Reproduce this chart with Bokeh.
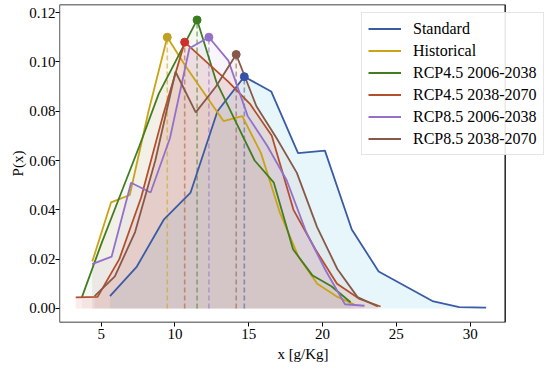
from bokeh.plotting import figure
from bokeh.models import Range1d, FixedTicker, Legend, LegendItem, PrintfTickFormatter, BoxAnnotation
from bokeh.embed import file_html
from bokeh.resources import INLINE

# ---- data ----
labels = ["Standard", "Historical", "RCP4.5 2006-2038", "RCP4.5 2038-2070",
          "RCP8.5 2006-2038", "RCP8.5 2038-2070"]

std_x = [5.6, 7.42, 9.24, 11.06, 12.88, 14.7, 16.52, 18.34, 20.16, 21.98, 23.8, 25.62, 27.44, 29.26, 31.08]
std_y = [0.005, 0.017, 0.036, 0.047, 0.080, 0.094, 0.088, 0.063, 0.064, 0.032, 0.015, 0.009, 0.003, 0.0005, 0.0003]

hist_x = [4.4, 5.67, 6.94, 8.21, 9.48, 10.75, 12.02, 13.29, 14.56, 15.83, 17.1, 18.37, 19.64, 20.91, 22.18]
hist_y = [0.019, 0.043, 0.046, 0.080, 0.110, 0.098, 0.087, 0.076, 0.078, 0.063, 0.039, 0.021, 0.010, 0.005, 0.0015]

r45a_x = [3.7, 5.0, 6.3, 7.6, 8.9, 10.2, 11.5, 12.8, 14.1, 15.4, 16.7, 18.0, 19.3, 20.6, 21.9]
r45a_y = [0.0046, 0.026, 0.046, 0.066, 0.087, 0.102, 0.117, 0.092, 0.076, 0.060, 0.051, 0.024, 0.0135, 0.009, 0.0025]

r45b_x = [3.28, 4.76, 6.23, 7.71, 9.18, 10.66, 12.13, 13.61, 15.08, 16.56, 18.03, 19.51, 20.98, 22.46, 23.93]
r45b_y = [0.0045, 0.0047, 0.020, 0.045, 0.078, 0.108, 0.100, 0.092, 0.083, 0.070, 0.040, 0.024, 0.010, 0.004, 0.0008]

r85a_x = [4.39, 5.71, 7.03, 8.35, 9.66, 10.98, 12.3, 13.62, 14.93, 16.25, 17.57, 18.89, 20.2, 21.52, 22.84]
r85a_y = [0.018, 0.021, 0.051, 0.047, 0.069, 0.1055, 0.110, 0.1005, 0.078, 0.066, 0.052, 0.031, 0.0155, 0.0017, 0.0011]

r85b_x = [4.56, 5.93, 7.3, 8.67, 10.04, 11.41, 12.78, 14.15, 15.52, 16.89, 18.26, 19.63, 21.0, 22.37, 23.74]
r85b_y = [0.005, 0.013, 0.031, 0.060, 0.096, 0.0795, 0.090, 0.103, 0.082, 0.069, 0.055, 0.033, 0.016, 0.0046, 0.0008]

x_ticks = [5, 10, 15, 20, 25, 30]
y_ticks = [0.00, 0.02, 0.04, 0.06, 0.08, 0.10, 0.12]

xs_all = [std_x, hist_x, r45a_x, r45b_x, r85a_x, r85b_x]
ys_all = [std_y, hist_y, r45a_y, r45b_y, r85a_y, r85b_y]

line_colors = ["#3b5ba5", "#c8a416", "#427d23", "#b3502c", "#9370c9", "#86594a"]
marker_colors = ["#3552a8", "#c0a020", "#3a7d1d", "#d0302a", "#9370c9", "#86594a"]
fill_colors = ["#5bc0de", "#d8a040", "#609040", "#e04040", "#a070d0", "#a06050"]
fill_alphas = [0.15, 0.07, 0.06, 0.1, 0.07, 0.08]

FONT = "Liberation Serif"

# axes box (matplotlib-like) and view range
x_lo, x_box_hi, x_view_hi = 2.18, 32.37, 35.17
y_lo, y_hi = -0.0057, 0.12327

p = figure(width=547, height=364, output_backend="svg", toolbar_location=None,
           x_range=Range1d(x_lo, x_view_hi), y_range=Range1d(y_lo, y_hi),
           min_border_left=59, min_border_right=1, min_border_top=4, min_border_bottom=30)
p.xgrid.visible = False
p.ygrid.visible = False
p.outline_line_color = None

for ax in (p.xaxis[0], p.yaxis[0]):
    ax.major_label_text_font = FONT
    ax.major_label_text_font_size = "15px"
    ax.major_label_text_color = "black"
    ax.axis_label_text_font = FONT
    ax.axis_label_text_font_size = "15px"
    ax.axis_label_text_font_style = "normal"
    ax.axis_label_text_color = "black"
    ax.axis_line_color = None
    ax.major_tick_line_color = "black"
    ax.major_tick_out = 4
    ax.major_tick_in = 0
    ax.minor_tick_line_color = None
    ax.major_label_standoff = 2
    ax.axis_label_standoff = 4
p.yaxis.major_label_standoff = 0
p.yaxis.axis_label_standoff = 0

p.xaxis.ticker = FixedTicker(ticks=x_ticks)
p.yaxis.ticker = FixedTicker(ticks=y_ticks)
p.yaxis.formatter = PrintfTickFormatter(format="%.2f")
p.xaxis.axis_label = "x [g/Kg]"
p.yaxis.axis_label = "P(x)"

# fills
for xs, ys, fc, fa in zip(xs_all, ys_all, fill_colors, fill_alphas):
    p.varea(x=xs, y1=[0] * len(xs), y2=ys, fill_color=fc, fill_alpha=fa)

# dashed peak lines
for xs, ys, lc in zip(xs_all, ys_all, line_colors):
    i = max(range(len(ys)), key=lambda k: ys[k])
    p.segment(x0=[xs[i]], y0=[0], x1=[xs[i]], y1=[ys[i]], line_color=lc,
              line_alpha=0.55, line_width=1.6, line_dash="5 3")

items = []
for xs, ys, lc, lab in zip(xs_all, ys_all, line_colors, labels):
    r = p.line(xs, ys, line_color=lc, line_width=1.8)
    items.append(LegendItem(label=lab, renderers=[r]))

for xs, ys, mc in zip(xs_all, ys_all, marker_colors):
    i = max(range(len(ys)), key=lambda k: ys[k])
    p.scatter([xs[i]], [ys[i]], size=8, fill_color=mc, line_color=mc)

# axes frame
p.add_layout(BoxAnnotation(left=x_lo, right=x_box_hi, bottom=y_lo, top=y_hi,
                           fill_color=None, line_color="black", line_alpha=1.0,
                           line_width=1.3, level="underlay"))

legend = Legend(items=items, location=(302, 167))
legend.label_text_font = FONT
legend.label_text_font_size = "16px"
legend.label_text_color = "black"
legend.glyph_width = 33
legend.glyph_height = 19
legend.label_height = 19
legend.spacing = 3
legend.padding = 6
legend.margin = 0
legend.label_standoff = 12
legend.border_line_color = "#cccccc"
legend.border_line_width = 1
legend.background_fill_alpha = 0.9
p.add_layout(legend)

open("out.html", "w").write(file_html(p, INLINE))
